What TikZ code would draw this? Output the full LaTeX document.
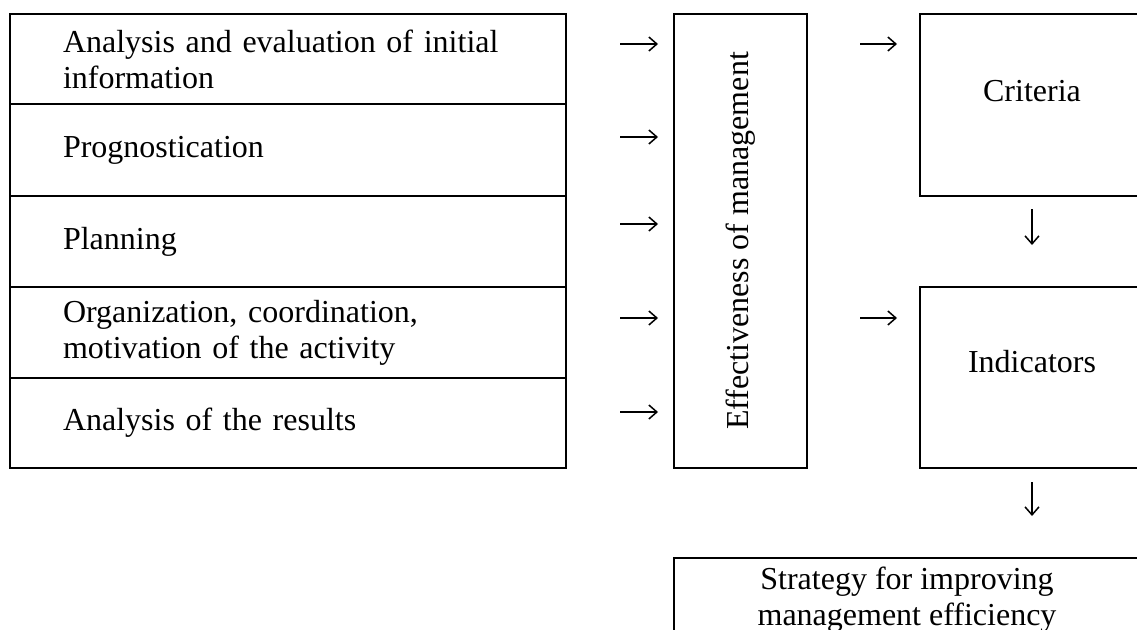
\documentclass[tikz,border=0pt]{standalone}
\usepackage{fontspec}
\setmainfont{Liberation Serif}
\usetikzlibrary{arrows.meta}
\begin{document}
\begin{tikzpicture}[x=1pt,y=-1pt,
  txt/.style={font=\fontsize{32}{36}\selectfont},
  rowbox/.style={txt,draw,line width=2pt,anchor=north west,text width=450pt,
    inner xsep=53pt,inner ysep=0pt,minimum width=556pt,align=left},
  bigbox/.style={txt,draw,line width=2pt,anchor=north west,inner sep=0pt},
  arr/.style={line width=1.5pt,-{Straight Barb[length=8pt,width=14pt]}}]
\useasboundingbox (0,0) rectangle (1137,629);
\clip (0,0) rectangle (1137,629);
% left stack
\node[rowbox,minimum height=90pt] (r1) at (9,13) {Analysis and evaluation of initial\\information};
\node[rowbox,minimum height=92pt] (r2) at (9,103) {Prognostication};
\node[rowbox,minimum height=91pt] (r3) at (9,195) {Planning};
\node[rowbox,minimum height=91pt] (r4) at (9,286) {Organization, coordination,\\motivation of the activity};
\node[rowbox,minimum height=90pt] (r5) at (9,377) {Analysis of the results};
% central box
\node[bigbox,minimum width=133pt,minimum height=454pt] (eff) at (673,13) {\rotatebox{90}{Effectiveness of management}};
% right boxes
\node[bigbox,minimum width=224pt,minimum height=182pt,label={[txt,yshift=14pt]center:Criteria}] (crit) at (919,13) {};
\node[bigbox,minimum width=224pt,minimum height=181pt,label={[txt,yshift=16pt]center:Indicators}] (ind) at (919,286) {};
\node[bigbox,minimum width=466pt,minimum height=150pt,
  label={[txt,anchor=north,inner sep=0pt,yshift=-10pt,align=center]north:Strategy for improving\\management efficiency}] (strat) at (673,557) {};
% arrow levels
\coordinate (l1) at (0,44);
\coordinate (l2) at (0,137);
\coordinate (l3) at (0,224);
\coordinate (l4) at (0,318);
\coordinate (l5) at (0,412);
\foreach \r/\l in {r1/l1,r2/l2,r3/l3,r4/l4,r5/l5}
  \draw[arr,shorten <=53pt,shorten >=15pt] (\r.east |- \l) -- (eff.west |- \l);
\draw[arr,shorten <=52pt,shorten >=22pt] (eff.east |- l1) -- (crit.west |- l1);
\draw[arr,shorten <=52pt,shorten >=22pt] (eff.east |- l4) -- (ind.west |- l4);
\draw[arr,shorten <=12pt,shorten >=41pt] (crit.south) -- (ind.north);
\draw[arr,shorten <=13pt,shorten >=41pt] (ind.south) -- (ind.south |- strat.north);
\end{tikzpicture}
\end{document}
